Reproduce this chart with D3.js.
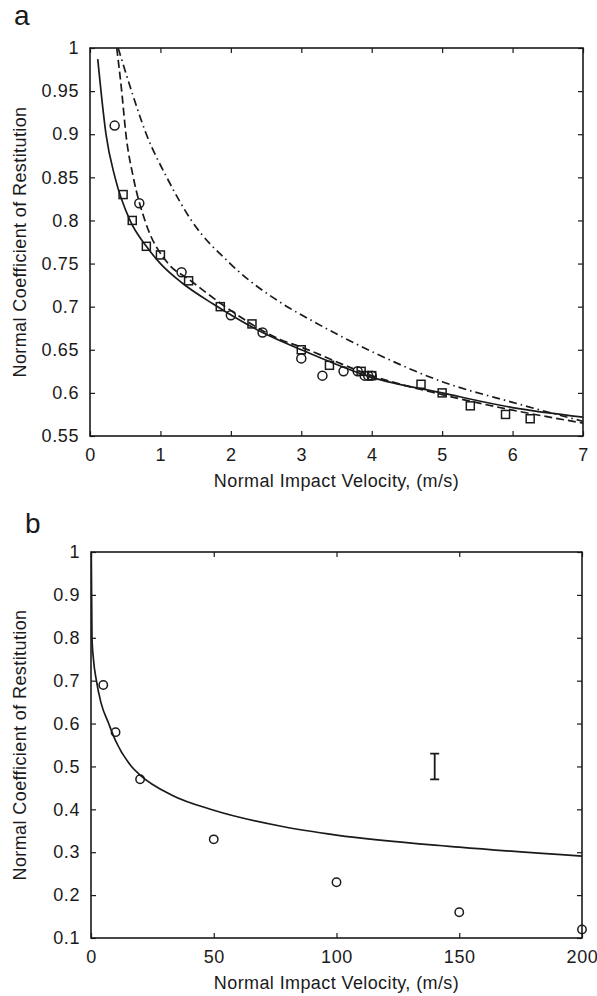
<!DOCTYPE html>
<html>
<head>
<meta charset="utf-8">
<script src="https://cdn.jsdelivr.net/npm/d3@7"></script>
<style>
  body { margin: 0; background: #fff; }
  svg { font-family: "Liberation Sans", Arial, Helvetica, sans-serif; }
</style>
</head>
<body>
<div id="plot"></div>
<script>
// ---- panel a data ----
const xTicksA = [0, 1, 2, 3, 4, 5, 6, 7];
const yTicksA = [0.55, 0.6, 0.65, 0.7, 0.75, 0.8, 0.85, 0.9, 0.95, 1];

const circVelA = [0.35, 0.7, 1.3, 2.0, 2.45, 3.0, 3.3, 3.6, 3.8, 3.9, 3.95, 4.0];
const circCorA = [0.91, 0.82, 0.74, 0.69, 0.67, 0.64, 0.62, 0.625, 0.625, 0.62, 0.62, 0.62];

const sqVelA = [0.47, 0.6, 0.8, 1.0, 1.4, 1.85, 2.3, 3.0, 3.4, 3.85, 4.0, 4.7, 5.0, 5.4, 5.9, 6.25];
const sqCorA = [0.83, 0.80, 0.77, 0.76, 0.73, 0.70, 0.68, 0.65, 0.632, 0.625, 0.62, 0.61, 0.60, 0.585, 0.575, 0.57];

const solidVelA = [0.11, 0.156, 0.227, 0.355, 0.568, 0.8, 1.0, 1.3, 1.75, 2.45, 3, 4, 5, 6, 7];
const solidCorA = [0.987, 0.95, 0.90, 0.85, 0.80, 0.77, 0.75, 0.728, 0.703, 0.67, 0.65, 0.618, 0.600, 0.583, 0.572];

const dashVelA = [0.38, 0.45, 0.51, 0.615, 0.78, 1.11, 1.4, 1.92, 2.7, 3, 4, 5, 6, 7];
const dashCorA = [1.0, 0.95, 0.90, 0.85, 0.80, 0.75, 0.732, 0.70, 0.662, 0.653, 0.620, 0.598, 0.580, 0.565];

const dotVelA = [0.40, 0.59, 0.80, 1.09, 1.44, 1.99, 2.8, 3.1, 4, 5, 6, 7];
const dotCorA = [1.0, 0.95, 0.90, 0.85, 0.80, 0.75, 0.70, 0.686, 0.648, 0.613, 0.589, 0.567];

// ---- panel b data ----
const xTicksB = [0, 50, 100, 150, 200];
const yTicksB = [0.1, 0.2, 0.3, 0.4, 0.5, 0.6, 0.7, 0.8, 0.9, 1];

const circVelB = [5, 10, 20, 50, 100, 150, 200];
const circCorB = [0.69, 0.58, 0.47, 0.33, 0.23, 0.16, 0.12];

const solidVelB = [0.1, 0.4, 1, 2.2, 4, 7.2, 10, 16.5, 20, 33, 50, 78, 100, 150, 200];
const solidCorB = [1.0, 0.80, 0.75, 0.70, 0.65, 0.60, 0.56, 0.50, 0.48, 0.433, 0.398, 0.36, 0.34, 0.312, 0.291];

const errVelB = 140;
const errLoB = 0.47;
const errHiB = 0.53;

const xTitle = "Normal Impact Velocity, (m/s)";
const yTitle = "Normal Coefficient of Restitution";

const ink = "#1a1a1a";

const svg = d3.select("div#plot")
  .append("svg")
    .attr("width", 597)
    .attr("height", 996);

const zip = (a, b) => a.map((d, i) => [d, b[i]]);

function drawPanel(opt) {
  const x = d3.scaleLinear().domain(opt.xDomain).range([opt.left, opt.right]);
  const y = d3.scaleLinear().domain(opt.yDomain).range([opt.bottom, opt.top]);
  const g = svg.append("g");

  g.append("clipPath")
    .attr("id", "clip-" + opt.id)
    .append("rect")
      .attr("x", opt.left)
      .attr("y", opt.top)
      .attr("width", opt.right - opt.left)
      .attr("height", opt.bottom - opt.top);

  const fmt = d => String(d);

  // axes, ticks pointing inward on all four sides
  const bottomAxis = g.append("g")
    .attr("transform", `translate(0,${opt.bottom})`)
    .call(d3.axisBottom(x).tickValues(opt.xTicks).tickFormat(fmt)
      .tickSizeInner(-5).tickSizeOuter(0).tickPadding(9));
  const leftAxis = g.append("g")
    .attr("transform", `translate(${opt.left},0)`)
    .call(d3.axisLeft(y).tickValues(opt.yTicks).tickFormat(fmt)
      .tickSizeInner(-5).tickSizeOuter(0).tickPadding(11));
  const topAxis = g.append("g")
    .attr("transform", `translate(0,${opt.top})`)
    .call(d3.axisTop(x).tickValues(opt.xTicks).tickFormat("")
      .tickSizeInner(-5).tickSizeOuter(0));
  const rightAxis = g.append("g")
    .attr("transform", `translate(${opt.right},0)`)
    .call(d3.axisRight(y).tickValues(opt.yTicks).tickFormat("")
      .tickSizeInner(-5).tickSizeOuter(0));

  [bottomAxis, leftAxis, topAxis, rightAxis].forEach(a => {
    a.select(".domain").remove();
    a.selectAll("line").attr("stroke", ink).attr("stroke-width", 1.2);
    a.selectAll("text")
      .attr("fill", ink)
      .style("font-size", "18px")
      .style("letter-spacing", "0.6px");
  });
  bottomAxis.selectAll("text").attr("dy", "0.9em");

  g.append("rect")
    .attr("x", opt.left)
    .attr("y", opt.top)
    .attr("width", opt.right - opt.left)
    .attr("height", opt.bottom - opt.top)
    .attr("fill", "none")
    .attr("stroke", ink)
    .attr("stroke-width", 1.6);

  // curves
  const line = d3.line()
    .x(d => x(d[0]))
    .y(d => y(d[1]))
    .curve(d3.curveMonotoneX);

  const plot = g.append("g").attr("clip-path", `url(#clip-${opt.id})`);
  opt.curves.forEach(c => {
    plot.append("path")
      .datum(c.pts)
      .attr("d", line)
      .attr("fill", "none")
      .attr("stroke", ink)
      .attr("stroke-width", 1.7)
      .attr("stroke-dasharray", c.dash);
  });

  // markers
  g.selectAll(".circ-" + opt.id)
    .data(opt.circles)
    .enter()
    .append("circle")
      .attr("class", "circ-" + opt.id)
      .attr("cx", d => x(d[0]))
      .attr("cy", d => y(d[1]))
      .attr("r", opt.r)
      .attr("fill", "none")
      .attr("stroke", ink)
      .attr("stroke-width", 1.5);

  g.selectAll(".sq-" + opt.id)
    .data(opt.squares || [])
    .enter()
    .append("rect")
      .attr("class", "sq-" + opt.id)
      .attr("x", d => x(d[0]) - 4)
      .attr("y", d => y(d[1]) - 4)
      .attr("width", 8)
      .attr("height", 8)
      .attr("fill", "none")
      .attr("stroke", ink)
      .attr("stroke-width", 1.5);

  // labels
  g.append("text")
    .attr("x", (opt.left + opt.right) / 2)
    .attr("y", opt.bottom + 51)
    .attr("text-anchor", "middle")
    .attr("fill", ink)
    .style("font-size", "18px")
    .style("letter-spacing", "0.4px")
    .text(xTitle);

  g.append("text")
    .attr("transform", `translate(26,${(opt.top + opt.bottom) / 2}) rotate(-90)`)
    .attr("text-anchor", "middle")
    .attr("fill", ink)
    .style("font-size", "18px")
    .style("letter-spacing", "0.4px")
    .text(yTitle);

  g.append("text")
    .attr("x", opt.tagX)
    .attr("y", opt.tagY)
    .attr("fill", ink)
    .style("font-size", "28px")
    .text(opt.tag);

  return { g, x, y };
}

drawPanel({
  id: "a", tag: "a", tagX: 14, tagY: 25,
  left: 90, right: 583, top: 48, bottom: 436,
  xDomain: [0, 7], yDomain: [0.55, 1],
  xTicks: xTicksA, yTicks: yTicksA,
  r: 4.5,
  circles: zip(circVelA, circCorA),
  squares: zip(sqVelA, sqCorA),
  curves: [
    { pts: zip(solidVelA, solidCorA), dash: null },
    { pts: zip(dashVelA, dashCorA), dash: "8,4" },
    { pts: zip(dotVelA, dotCorA), dash: "8,4,1.5,4" }
  ]
});

const pb = drawPanel({
  id: "b", tag: "b", tagX: 25, tagY: 533,
  left: 91, right: 582, top: 552, bottom: 938,
  xDomain: [0, 200], yDomain: [0.1, 1],
  xTicks: xTicksB, yTicks: yTicksB,
  r: 4.2,
  circles: zip(circVelB, circCorB),
  curves: [
    { pts: zip(solidVelB, solidCorB), dash: null }
  ]
});

// error bar in panel b
const ex = pb.x(errVelB);
pb.g.append("path")
  .attr("d", `M${ex - 4.5},${pb.y(errHiB)}H${ex + 4.5}M${ex},${pb.y(errHiB)}V${pb.y(errLoB)}M${ex - 4.5},${pb.y(errLoB)}H${ex + 4.5}`)
  .attr("fill", "none")
  .attr("stroke", ink)
  .attr("stroke-width", 1.8);
</script>
</body>
</html>
